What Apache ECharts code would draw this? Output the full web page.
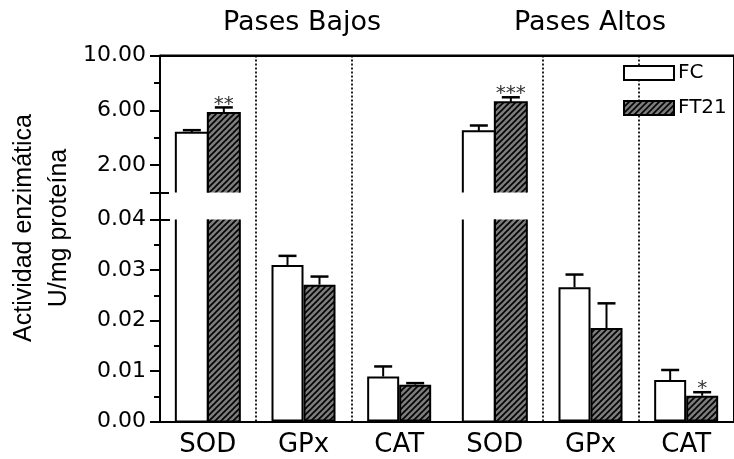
<!DOCTYPE html>
<html>
<head>
<meta charset="utf-8">
<script src="https://cdn.jsdelivr.net/npm/echarts@6/dist/echarts.min.js"></script>
<style>html,body{margin:0;padding:0;background:#fff}#c{width:734px;height:459px}</style>
</head>
<body>
<div id="c"></div>
<script>
// ---- data ----
const categories = ['SOD', 'GPx', 'CAT', 'SOD', 'GPx', 'CAT'];
const panelTitles = ['Pases Bajos', 'Pases Altos'];
const seriesNames = ['FC', 'FT21'];
const fcMean   = [4.36, 0.0310, 0.0089, 4.47, 0.0266, 0.0082];
const fcErr    = [0.19, 0.0018, 0.0020, 0.42, 0.0025, 0.0020];
const ft21Mean = [5.81, 0.0271, 0.0073, 6.58, 0.0185, 0.0051];
const ft21Err  = [0.40, 0.0016, 0.0003, 0.37, 0.0049, 0.0007];
const fcSig    = ['', '', '', '', '', ''];
const ft21Sig  = ['**', '', '', '***', '', '*'];
const upperMin = 0, upperMax = 10;
const upperLabelTicks = [2, 6, 10];
const upperMajorTicks = [0, 2, 6, 10];
const upperMinorTicks = [4, 8];
const lowerMin = 0, lowerMax = 0.04, lowerStep = 0.01;
const yTitle = 'Actividad enzimática\nU/mg proteína';

// ---- style ----
const BAR_W = 32;
const FONT = 'DejaVu Sans';
function hatch() {
  const s = 6;
  const c = document.createElement('canvas');
  c.width = s; c.height = s;
  const g = c.getContext('2d');
  g.fillStyle = '#7c7c7c';
  g.fillRect(0, 0, s, s);
  g.strokeStyle = '#000';
  g.lineWidth = 1.6;
  g.beginPath();
  g.moveTo(-1, s + 1); g.lineTo(s + 1, -1);
  g.moveTo(-s / 2 - 1, s / 2 + 1); g.lineTo(s / 2 + 1, -s / 2 - 1);
  g.moveTo(s / 2 - 1, s * 1.5 + 1); g.lineTo(s * 1.5 + 1, s / 2 - 1);
  g.stroke();
  return c;
}
const styles = [
  { color: '#fff', borderColor: '#000', borderWidth: 2 },
  { color: { image: hatch(), repeat: 'repeat' }, borderColor: '#000', borderWidth: 2 }
];
const noBorder = (v) => ({ value: v, itemStyle: { borderWidth: 0 } });

// upper (broken) panel: only values above the lower axis; outlines drawn open at the break
const upperData = (arr) => arr.map(v => v > lowerMax ? noBorder(v) : '-');
// lower panel: values beyond the axis are clipped, outlines drawn open at the break
const lowerData = (arr) => arr.map(v => v > lowerMax ? noBorder(v) : v);
const errData = (mean, err, upper) => mean.map((m, i) => [i, m, err[i]])
  .filter(d => upper ? d[1] > lowerMax : true);

function errRender(sign, sig, upper) {
  return function (params, api) {
    const i = api.value(0), m = api.value(1), e = api.value(2);
    const cs = params.coordSys;
    const base = api.coord([i, m]);
    const top = api.coord([i, m + e]);
    const y0 = api.coord([i, 0])[1];
    const x = base[0] + sign * BAR_W / 2;
    const xl = x - BAR_W / 2, xr = x + BAR_W / 2;
    const line = { stroke: '#000', lineWidth: 2, fill: null };
    const children = [];
    if (!upper && base[1] < cs.y) {
      children.push({ type: 'polyline', shape: { points: [[xl, cs.y], [xl, y0], [xr, y0], [xr, cs.y]] }, style: line });
      return { type: 'group', children };
    }
    if (upper) {
      children.push({ type: 'polyline', shape: { points: [[xl, y0], [xl, base[1]], [xr, base[1]], [xr, y0]] }, style: line });
    }
    children.push({ type: 'line', shape: { x1: x, y1: base[1], x2: x, y2: top[1] },
      style: { stroke: '#000', lineWidth: 2 } });
    children.push({ type: 'line', shape: { x1: x - 9, y1: top[1], x2: x + 9, y2: top[1] },
      style: { stroke: '#000', lineWidth: 2.5 } });
    if (sig[i]) {
      children.push({ type: 'text', x: x, y: top[1] - 3,
        style: { text: sig[i], fontSize: 20, fontFamily: FONT, fill: '#333', align: 'center', verticalAlign: 'middle' } });
    }
    return { type: 'group', children };
  };
}

// frame line along the top of the upper plot area
function frameRender(params, api) {
  const cs = params.coordSys;
  const y = api.coord([0, upperMax])[1];
  return { type: 'line', shape: { x1: cs.x, y1: y, x2: cs.x + cs.width, y2: y },
    style: { stroke: '#000', lineWidth: 2 } };
}

const series = [];
[fcMean, ft21Mean].forEach((mean, k) => {
  series.push({ name: seriesNames[k], type: 'bar', xAxisIndex: 1, yAxisIndex: 3,
    data: lowerData(mean), barWidth: BAR_W, barGap: '0%', itemStyle: styles[k], z: 2 });
});
[fcMean, ft21Mean].forEach((mean, k) => {
  series.push({ name: seriesNames[k], type: 'bar', xAxisIndex: 0, yAxisIndex: 0,
    data: upperData(mean), barWidth: BAR_W, barGap: '0%', itemStyle: styles[k], z: 2 });
});
[[fcMean, fcErr, -1, fcSig], [ft21Mean, ft21Err, 1, ft21Sig]].forEach(([mean, err, sign, sig]) => {
  series.push({ type: 'custom', xAxisIndex: 0, yAxisIndex: 0, data: errData(mean, err, true),
    renderItem: errRender(sign, sig, true), z: 3, clip: false });
  series.push({ type: 'custom', xAxisIndex: 1, yAxisIndex: 3, data: errData(mean, err, false),
    renderItem: errRender(sign, sig, false), z: 3, clip: false });
});
series.push({ type: 'custom', xAxisIndex: 0, yAxisIndex: 0, data: [[0, upperMax]],
  renderItem: frameRender, zlevel: 1, z: 10, clip: false, silent: true });

const blackLine = () => ({ show: true, onZero: false, lineStyle: { color: '#000', width: 2 } });
const tickLabel = () => ({ color: '#000', fontSize: 22, fontFamily: FONT, margin: 14 });

const chart = echarts.init(document.getElementById('c'), null, { renderer: 'canvas' });
chart.setOption({
  animation: false,
  backgroundColor: '#fff',
  title: panelTitles.map((t, k) => ({
    text: t, left: k === 0 ? 302 : 590, top: 9, textAlign: 'center', padding: 0,
    textStyle: { fontSize: 27, fontWeight: 'normal', fontFamily: FONT, color: '#000' }
  })),
  legend: {
    data: seriesNames, orient: 'vertical', left: 623, top: 63, itemWidth: 50, itemHeight: 14,
    itemGap: 15, icon: 'rect', selectedMode: false, padding: 0,
    textStyle: { fontSize: 20, fontFamily: FONT, color: '#000', padding: [0, 0, 0, -1] }
  },
  graphic: [{
    type: 'text', x: 42, y: 228, rotation: Math.PI / 2,
    style: { text: yTitle, fontSize: 25, fontFamily: 'Liberation Sans', fill: '#000',
      align: 'center', verticalAlign: 'middle', lineHeight: 35 }
  }],
  grid: [
    { left: 160, right: 0, top: 55.5, height: 137 },
    { left: 160, right: 0, top: 219.5, height: 202 },
    { left: 160, right: 0, top: 55.5, height: 366 }
  ],
  xAxis: [
    { gridIndex: 0, type: 'category', data: categories, position: 'top', zlevel: 1,
      axisLine: blackLine(), axisTick: { show: false }, axisLabel: { show: false } },
    { gridIndex: 1, type: 'category', data: categories, position: 'bottom',
      axisLine: blackLine(), axisTick: { show: false },
      axisLabel: { color: '#000', fontSize: 26, fontFamily: FONT, margin: 11, interval: 0 } },
    { gridIndex: 2, type: 'category', data: categories, position: 'bottom',
      axisLine: { show: false }, axisTick: { show: false }, axisLabel: { show: false },
      splitLine: { show: true, interval: (i) => i % 3 !== 0, lineStyle: { color: '#222', width: 2, type: [2, 2] } } },
    { gridIndex: 2, type: 'category', data: categories, position: 'top',
      axisLine: { show: false }, axisTick: { show: false }, axisLabel: { show: false },
      splitLine: { show: true, interval: (i) => i === 3, lineStyle: { color: '#000', width: 2 } } }
  ],
  yAxis: [
    { gridIndex: 0, type: 'value', position: 'left', min: upperMin, max: upperMax,
      axisLine: blackLine(), splitLine: { show: false },
      axisTick: { show: true, length: 10, customValues: upperMajorTicks, lineStyle: { color: '#000', width: 2 } },
      axisLabel: Object.assign({ customValues: upperLabelTicks, formatter: v => v.toFixed(2) }, tickLabel()) },
    { gridIndex: 0, type: 'value', position: 'left', min: upperMin, max: upperMax,
      axisLine: { show: false }, splitLine: { show: false }, axisLabel: { show: false },
      axisTick: { show: true, length: 6, customValues: upperMinorTicks, lineStyle: { color: '#000', width: 2 } } },
    { gridIndex: 0, type: 'value', position: 'left', min: upperMin, max: upperMax,
      axisLine: { show: false }, axisLabel: { show: false }, splitLine: { show: false },
      axisTick: { show: true, inside: true, length: 9, customValues: [upperMin], lineStyle: { color: '#000', width: 2 } } },
    { gridIndex: 1, type: 'value', position: 'left', min: lowerMin, max: lowerMax, interval: lowerStep,
      axisLine: blackLine(), splitLine: { show: false },
      axisTick: { show: true, length: 10, lineStyle: { color: '#000', width: 2 } },
      minorTick: { show: true, splitNumber: 2, length: 6, lineStyle: { color: '#000', width: 2 } },
      minorSplitLine: { show: false },
      axisLabel: Object.assign({ formatter: v => v.toFixed(2) }, tickLabel()) },
    { gridIndex: 1, type: 'value', position: 'left', min: lowerMin, max: lowerMax,
      axisLine: { show: false }, splitLine: { show: false }, axisLabel: { show: false },
      axisTick: { show: true, inside: true, length: 10, customValues: [lowerMax], lineStyle: { color: '#000', width: 2 } } },
    { gridIndex: 2, type: 'value', min: 0, max: 1, position: 'left',
      axisLine: { show: false }, axisTick: { show: false }, axisLabel: { show: false }, splitLine: { show: false } }
  ],
  series
});
</script>
</body>
</html>
